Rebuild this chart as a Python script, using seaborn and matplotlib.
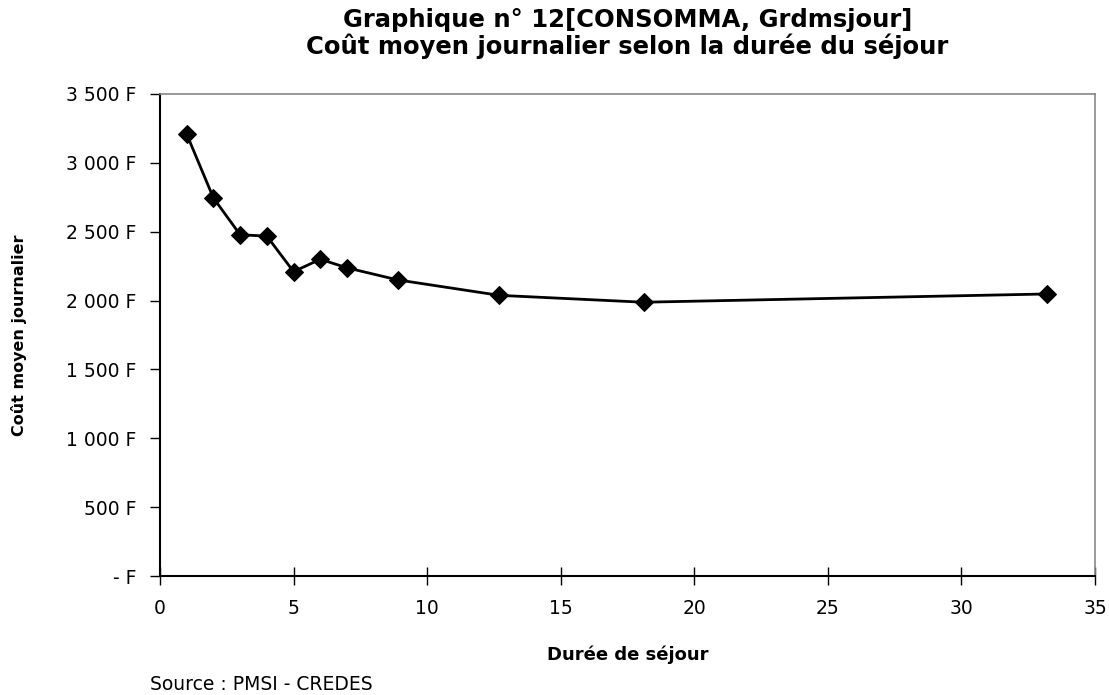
import matplotlib
matplotlib.use("Agg")
import matplotlib.pyplot as plt
import seaborn as sns
import pandas as pd
from matplotlib.ticker import FuncFormatter, MultipleLocator

duree = [1, 2, 3, 4, 5, 6, 7, 8.9, 12.7, 18.1, 33.2]
cout = [3208, 2745, 2478, 2468, 2210, 2300, 2238, 2150, 2038, 1988, 2048]

title = "Graphique n° 12[CONSOMMA, Grdmsjour]\nCoût moyen journalier selon la durée du séjour"
xlabel = "Durée de séjour"
ylabel = "Coût moyen journalier"
source = "Source : PMSI - CREDES"

sns.set_theme(style="white")
plt.rcParams['font.family'] = ['DejaVu Sans']
plt.rcParams['text.color'] = 'black'
plt.rcParams['axes.labelcolor'] = 'black'
plt.rcParams['xtick.color'] = 'black'
plt.rcParams['ytick.color'] = 'black'

df = pd.DataFrame({"duree": duree, "cout": cout})

fig = plt.figure(figsize=(11.09, 6.95), dpi=100)
ax = fig.add_axes([160/1109, 1-576/695, (1095-160)/1109, (576-94)/695])

sns.lineplot(data=df, x="duree", y="cout", ax=ax, color="black", linewidth=2,
             marker="D", markersize=9, markeredgecolor="black", markerfacecolor="black")

ax.set_xlim(0, 35)
ax.set_ylim(0, 3500)
ax.xaxis.set_major_locator(MultipleLocator(5))
ax.yaxis.set_major_locator(MultipleLocator(500))

def yfmt(v, pos):
    v = int(round(v))
    if v == 0:
        return "- F"
    s = f"{v:,}".replace(",", " ")
    return s + " F"
ax.yaxis.set_major_formatter(FuncFormatter(yfmt))

for side in ["left", "bottom"]:
    ax.spines[side].set_color("black")
    ax.spines[side].set_linewidth(1.5)
for side in ["top", "right"]:
    ax.spines[side].set_color("#888888")
    ax.spines[side].set_linewidth(1.2)
    ax.spines[side].set_visible(True)

ax.tick_params(axis="y", direction="out", length=7, width=1, color="black",
               labelcolor="black", labelsize=13.5, pad=10, left=True)
ax.tick_params(axis="x", direction="inout", length=13, width=1, color="black",
               labelcolor="black", labelsize=13.5, pad=10, bottom=True)

ax.set_xlabel(xlabel, fontsize=13, fontweight="bold", labelpad=20, color="black")
ax.set_ylabel(ylabel, fontsize=11.5, fontweight="bold", labelpad=28, color="black")
ax.grid(False)

fig.suptitle(title, fontsize=17.5, fontweight="bold", y=0.988, x=(160+1095)/2/1109,
             linespacing=1.05, color="black")
fig.text(150/1109, 1-685/695, source, fontsize=13.5, va="center", ha="left", color="black")

fig.savefig("out.png", dpi=100)
